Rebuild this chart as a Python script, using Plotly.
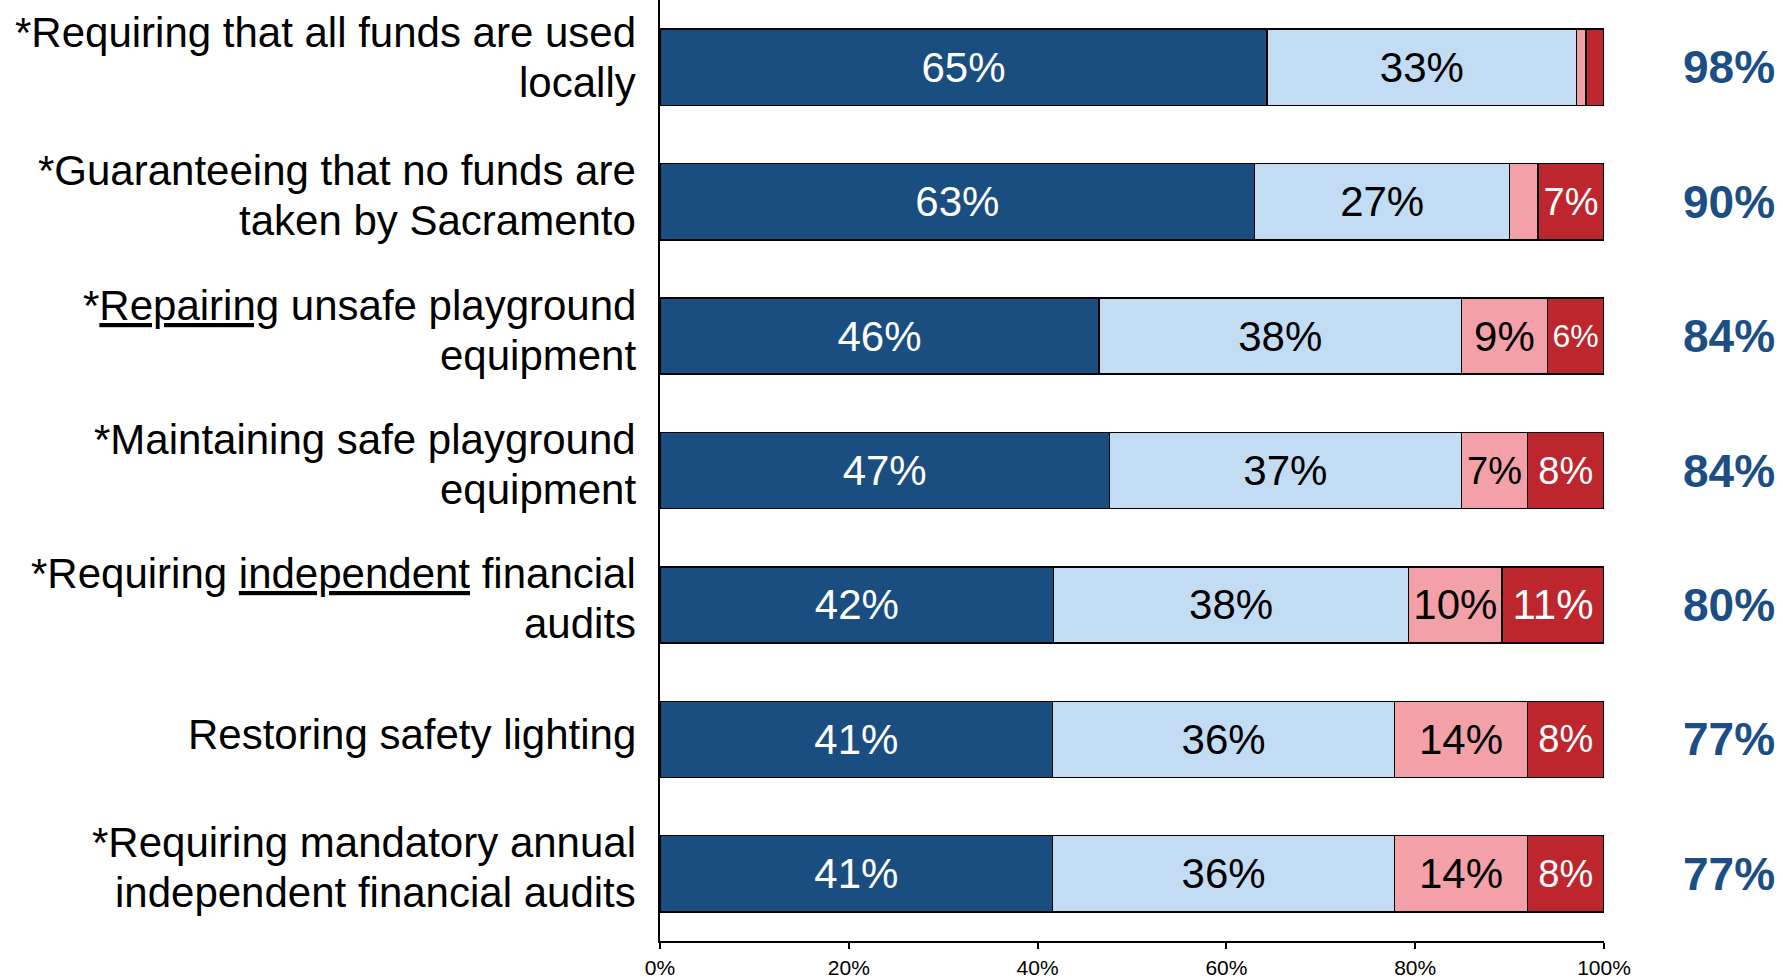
import plotly.graph_objects as go

categories = [
    "*Requiring that all funds are used<br>locally",
    "*Guaranteeing that no funds are<br>taken by Sacramento",
    "*<u>Repairing</u> unsafe playground<br>equipment",
    "*Maintaining safe playground<br>equipment",
    "*Requiring <u>independent</u> financial<br>audits",
    "Restoring safety lighting",
    "*Requiring mandatory annual<br>independent financial audits",
]

strongly_support = [64.3, 63.0, 46.5, 47.6, 41.7, 41.6, 41.6]
somewhat_support = [32.8, 27.0, 38.4, 37.3, 37.6, 36.2, 36.2]
somewhat_oppose = [1.0, 3.0, 9.1, 7.0, 9.9, 14.1, 14.1]
strongly_oppose = [1.9, 7.0, 6.0, 8.1, 10.8, 8.1, 8.1]

strongly_support_labels = ["65%", "63%", "46%", "47%", "42%", "41%", "41%"]
somewhat_support_labels = ["33%", "27%", "38%", "37%", "38%", "36%", "36%"]
somewhat_oppose_labels = ["", "", "9%", "7%", "10%", "14%", "14%"]
strongly_oppose_labels = ["", "7%", "6%", "8%", "11%", "8%", "8%"]

total_support_labels = ["98%", "90%", "84%", "84%", "80%", "77%", "77%"]

x_tick_values = [0, 20, 40, 60, 80, 100]
x_tick_labels = ["0%", "20%", "40%", "60%", "80%", "100%"]

FONT = "Liberation Sans, Arial, sans-serif"
DARK_BLUE = "#1A4E80"
LIGHT_BLUE = "#C2DCF3"
PINK = "#F4A0A8"
RED = "#BE262E"

series = [
    (strongly_support, strongly_support_labels, DARK_BLUE, "white", [42] * 7),
    (somewhat_support, somewhat_support_labels, LIGHT_BLUE, "black", [42] * 7),
    (somewhat_oppose, somewhat_oppose_labels, PINK, "black", [42, 42, 42, 38, 42, 42, 42]),
    (strongly_oppose, strongly_oppose_labels, RED, "white", [42, 38, 32, 38, 42, 38, 38]),
]

fig = go.Figure()
for vals, labels, color, tcolor, sizes in series:
    fig.add_trace(go.Bar(
        y=categories, x=vals, orientation="h",
        marker=dict(color=color, line=dict(color="black", width=1.5)),
        text=labels, textposition="inside", insidetextanchor="middle",
        textfont=dict(family=FONT, color=tcolor, size=sizes),
        width=0.567, showlegend=False, hoverinfo="skip",
    ))

for cat, lab in zip(categories, total_support_labels):
    fig.add_annotation(
        x=1.1324, xref="paper", y=cat, yref="y", text="<b>" + lab + "</b>",
        showarrow=False, xanchor="center", yanchor="middle",
        font=dict(family=FONT, size=46, color="#1A4E85"),
    )

LINE_GAP = 50
for i, cat in enumerate(categories):
    lines = cat.split("<br>")
    offset = 10 if i == 0 else 6
    if len(lines) == 1:
        shifts = [5]
    else:
        shifts = [offset + LINE_GAP / 2, offset - LINE_GAP / 2]
    for line, s in zip(lines, shifts):
        fig.add_annotation(
            x=0, xref="paper", y=cat, yref="y", text=line,
            showarrow=False, xanchor="right", yanchor="middle", align="right",
            xshift=-22, yshift=s,
            font=dict(family=FONT, size=42, color="black"),
        )

fig.update_layout(
    barmode="stack",
    width=1783, height=978,
    margin=dict(l=660, r=179, t=0, b=37, autoexpand=False),
    plot_bgcolor="white", paper_bgcolor="white",
    font=dict(family=FONT, color="black"),
)
fig.update_xaxes(
    range=[0, 100], tickmode="array", tickvals=x_tick_values, ticktext=x_tick_labels,
    showgrid=False, zeroline=False, automargin=False,
    showline=True, linecolor="black", linewidth=2,
    ticks="outside", ticklen=6, tickcolor="black", tickwidth=1.5,
    ticklabelstandoff=1,
    tickfont=dict(family=FONT, size=21, color="black"),
)
fig.update_yaxes(
    autorange="reversed", showgrid=False, zeroline=False, automargin=False,
    showline=True, linecolor="black", linewidth=2, ticks="",
    showticklabels=False,
)

fig.write_html(
    "out.html",
    config={"displayModeBar": False},
    post_script="document.body.style.margin='0';document.body.style.overflow='hidden';",
)
